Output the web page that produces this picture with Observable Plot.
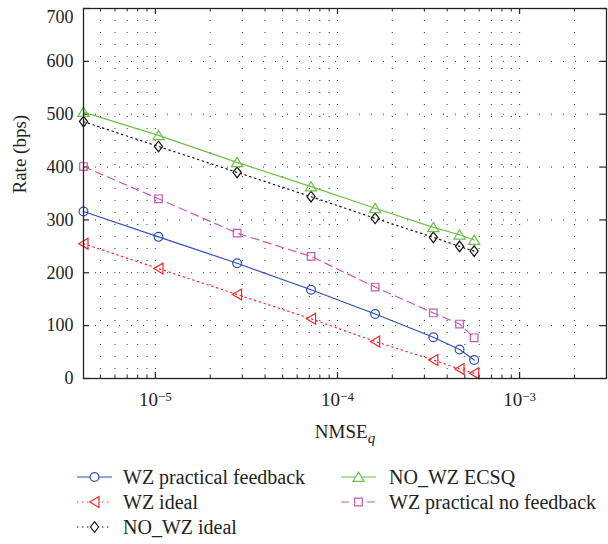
<!DOCTYPE html>
<html><head><meta charset="utf-8">
<script src="https://cdn.jsdelivr.net/npm/d3@7"></script>
<script src="https://cdn.jsdelivr.net/npm/@observablehq/plot@0.6"></script>
<style>
body{margin:0;background:#fff;}
#wrap{position:relative;width:608px;height:544px;font-family:'Liberation Serif','Noto Serif','DejaVu Serif','FreeSerif',serif;color:#222;overflow:hidden;}
#wrap svg.plot{display:block;}
#wrap svg text{font-family:'Liberation Serif','Noto Serif','DejaVu Serif','FreeSerif',serif;}
.lg-text{position:absolute;font-size:20px;line-height:24px;white-space:nowrap;}
.lg-sw{position:absolute;}
</style></head><body><div id="wrap"></div>
<script>
// ---- data ----
const nmse = [4.03e-6, 1.04e-5, 2.81e-5, 7.16e-5, 1.61e-4, 3.36e-4, 4.68e-4, 5.63e-4];
const wzPracticalFeedback = [316, 268, 218, 168, 122, 78, 55, 35];
const wzIdeal = [255, 208, 159, 113, 70, 35, 18, 10];
const noWzIdeal = [486, 439, 390, 344, 303, 267, 250, 241];
const noWzEcsq = [504, 460, 409, 363, 322, 286, 272, 262];
const wzPracticalNoFeedback = [401, 340, 275, 231, 173, 124, 103, 77];
const seriesNames = ["WZ practical feedback", "WZ ideal", "NO_WZ ideal", "NO_WZ ECSQ", "WZ practical no feedback"];
const xMajorTicks = [1e-5, 1e-4, 1e-3];
const xMinorTicks = [5e-6, 6e-6, 7e-6, 8e-6, 9e-6,
  2e-5, 3e-5, 4e-5, 5e-5, 6e-5, 7e-5, 8e-5, 9e-5,
  2e-4, 3e-4, 4e-4, 5e-4, 6e-4, 7e-4, 8e-4, 9e-4, 2e-3];
const yTicks = [0, 100, 200, 300, 400, 500, 600, 700];
const yGrid = [100, 200, 300, 400, 500, 600];
const xDomain = [nmse[0], 3e-3];
const yDomain = [0, 700];

// ---- marker shapes ----
const symCircle = {draw(c){ c.moveTo(4.4,0); c.arc(0,0,4.4,0,2*Math.PI); c.closePath(); }};
const symTriUp = {draw(c){ c.moveTo(0,-4.9); c.lineTo(5.6,4.3); c.lineTo(-5.6,4.3); c.closePath(); }};
const symTriLeft = {draw(c){ c.moveTo(-4.7,0); c.lineTo(4.5,-5.4); c.lineTo(4.5,5.4); c.closePath(); }};
const symDiamond = {draw(c){ c.moveTo(0,-5.3); c.lineTo(4.1,0); c.lineTo(0,5.3); c.lineTo(-4.1,0); c.closePath(); }};
const symSquare = {draw(c){ c.moveTo(-3.8,-3.8); c.lineTo(3.8,-3.8); c.lineTo(3.8,3.8); c.lineTo(-3.8,3.8); c.closePath(); }};

const seriesValues = [wzPracticalFeedback, wzIdeal, noWzIdeal, noWzEcsq, wzPracticalNoFeedback];
const styles = [
  {color:"#2f50b4", dash:null, sym:symCircle},
  {color:"#f2262b", dash:"1.4,3.6", sym:symTriLeft},
  {color:"#111111", dash:"1.4,3.6", sym:symDiamond},
  {color:"#6cc04a", dash:null, sym:symTriUp},
  {color:"#c558b4", dash:"8,5", sym:symSquare}
];
const rows = seriesNames.flatMap((name, k) => nmse.map((x, i) => ({series: name, x, y: seriesValues[k][i]})));

const W = 608, H = 450, mT = 8, mB = 72, mL = 83, mR = 2;
const innerH = H - mT - mB, innerW = W - mL - mR;
const FONT = "'Liberation Serif','Noto Serif','DejaVu Serif','FreeSerif',serif";

const marks = [
  Plot.ruleX(xMajorTicks.concat(xMinorTicks), {x: d => d, stroke: "#333", strokeWidth: 1, strokeDasharray: "1,11"}),
  Plot.ruleY(yGrid, {y: d => d, stroke: "#333", strokeWidth: 1, strokeDasharray: "1,11"}),
  Plot.tickX(xMajorTicks, {x: d => d, insetTop: innerH - 6, stroke: "#222", strokeWidth: 1.2}),
  Plot.tickX(xMajorTicks, {x: d => d, insetBottom: innerH - 6, stroke: "#222", strokeWidth: 1.2}),
  Plot.tickX(xMinorTicks, {x: d => d, insetTop: innerH - 3.5, stroke: "#222", strokeWidth: 1}),
  Plot.tickX(xMinorTicks, {x: d => d, insetBottom: innerH - 3.5, stroke: "#222", strokeWidth: 1}),
  Plot.tickY(yTicks, {y: d => d, insetRight: innerW - 6, stroke: "#222", strokeWidth: 1.2}),
  Plot.tickY(yTicks, {y: d => d, insetLeft: innerW - 6, stroke: "#222", strokeWidth: 1.2}),
];
seriesNames.forEach((name, k) => {
  const st = styles[k];
  const data = rows.filter(r => r.series === name);
  marks.push(Plot.line(data, {x: "x", y: "y", stroke: st.color, strokeWidth: 1.2, strokeDasharray: st.dash ?? undefined}));
  marks.push(Plot.dot(data, {x: "x", y: "y", symbol: st.sym, r: 5, stroke: st.color, strokeWidth: 1.2, fill: "none"}));
});
marks.push(
  Plot.frame({stroke: "#222", strokeWidth: 1.3}),
  Plot.axisY({ticks: yTicks, tickSize: 0, tickPadding: 10, tickFormat: d => String(d), fontSize: 18, label: null}),
  Plot.axisX({ticks: xMajorTicks, tickSize: 0, tickPadding: 14, tickFormat: d => String(Math.round(Math.log10(d))), fontSize: 19, label: null}),
  Plot.text(["NMSE"], {text: d => d, frameAnchor: "bottom", dy: 53.6, lineAnchor: "middle", fontSize: 19, fill: "#222"}),
  Plot.text(["Rate (bps)"], {text: d => d, frameAnchor: "left", dx: -64, rotate: -90, lineAnchor: "middle", fontSize: 19, fill: "#222"})
);

const chart = Plot.plot({
  width: W, height: H,
  marginTop: mT, marginBottom: mB, marginLeft: mL, marginRight: mR,
  x: {type: "log", domain: xDomain},
  y: {domain: yDomain},
  style: {fontFamily: FONT, color: "#222", background: "#fff", overflow: "visible"},
  marks
});
chart.classList.add("plot");
const wrap = document.getElementById("wrap");
wrap.appendChild(chart);

// superscript tick labels 10^k
d3.select(chart).selectAll('g[aria-label="x-axis tick label"] text').each(function(){
  const t = d3.select(this);
  const e = t.text();
  t.text(null);
  t.append("tspan").text("10");
  t.append("tspan").attr("dy", "-0.42em").attr("font-size", "13px").text(e.replace("-", "\u2212"));
});
// nudge top y label down slightly, as in the reference
d3.select(chart).selectAll('g[aria-label="y-axis tick label"] text').each(function(){
  if (this.textContent === "700") d3.select(this).attr("dy", "0.5em");
});
// subscript q
d3.select(chart).selectAll("text").each(function(){
  if (this.textContent === "NMSE") {
    d3.select(this).append("tspan").attr("dy", "0.3em").attr("font-size", "15px").attr("font-style", "italic").text("q");
  }
});

// ---- legend ----
const legendPos = [
  {sx: 77, tx: 123, y: 477}, {sx: 77, tx: 123, y: 502}, {sx: 77, tx: 123, y: 527},
  {sx: 341, tx: 389, y: 477}, {sx: 341, tx: 389, y: 502}
];
seriesNames.forEach((name, k) => {
  const st = styles[k], p = legendPos[k];
  const sw = d3.select(wrap).append("svg").attr("class", "lg-sw")
    .attr("width", 36).attr("height", 16)
    .style("left", p.sx + "px").style("top", (p.y - 8) + "px");
  sw.append("line").attr("x1", 0).attr("x2", 35).attr("y1", 8).attr("y2", 8)
    .attr("stroke", st.color).attr("stroke-width", 1.2)
    .attr("stroke-dasharray", st.dash);
  sw.append("path").attr("d", d3.symbol(st.sym)()).attr("transform", "translate(17.5,8)")
    .attr("fill", "#fff").attr("stroke", st.color).attr("stroke-width", 1.2);
  d3.select(wrap).append("div").attr("class", "lg-text")
    .style("left", p.tx + "px").style("top", (p.y - 12) + "px").text(name);
});
</script></body></html>
